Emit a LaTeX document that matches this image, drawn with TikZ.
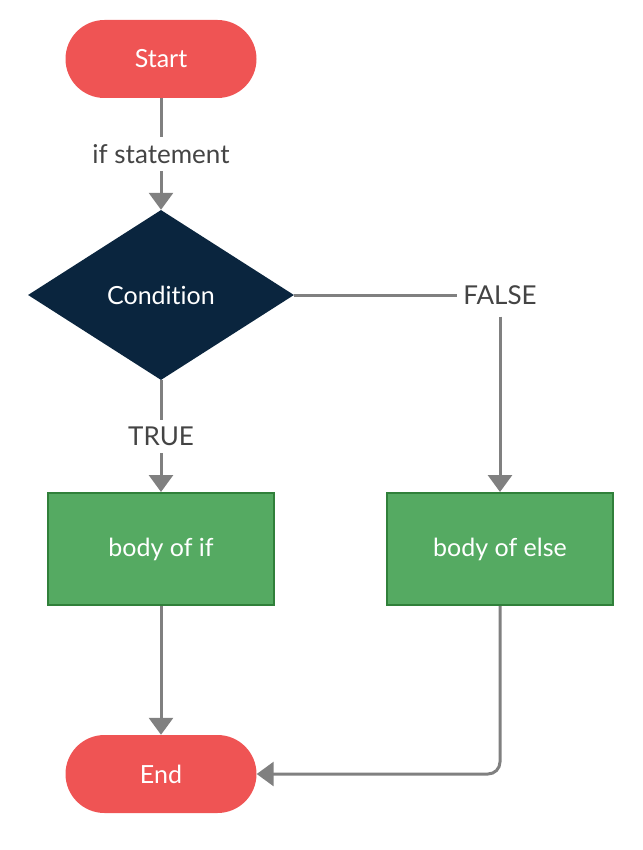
\documentclass[tikz,border=0pt]{standalone}
\usepackage{fontspec}
\setmainfont[Ligatures={NoCommon}]{Lato}
\usetikzlibrary{arrows.meta,shapes.geometric,positioning}
\definecolor{termred}{RGB}{239,84,84}
\definecolor{navy}{RGB}{10,37,62}
\definecolor{boxgreen}{RGB}{85,170,98}
\definecolor{boxedge}{RGB}{48,128,58}
\definecolor{linegray}{RGB}{128,128,128}
\definecolor{labelgray}{RGB}{68,68,68}
\tikzset{
  x=1pt, y=-1pt,
  terminal/.style={rectangle, rounded corners=39pt, fill=termred, text=white,
    minimum width=191pt, minimum height=78pt, inner sep=0pt, font=\fontsize{25}{29}\selectfont},
  decision/.style={diamond, fill=navy, text=white, minimum width=266pt, minimum height=170pt,
    inner sep=0pt, aspect=1.56, font=\fontsize{25}{29}\selectfont},
  process/.style={rectangle, fill=boxgreen, draw=boxedge, line width=2pt, text=white,
    minimum width=226pt, minimum height=112pt, inner sep=0pt, font=\fontsize{25}{29}\selectfont},
  conn/.style={draw=linegray, line width=3pt, -{Triangle[width=24pt,length=17pt]}},
  lbl/.style={fill=white, text=labelgray, inner xsep=2pt, inner ysep=7pt, font=\fontsize{26}{30}\selectfont}
}
\begin{document}
\begin{tikzpicture}
\useasboundingbox (0,0) rectangle (642,850);
\node[terminal] (start) at (161,59) {Start};
\node[decision] (cond) at (161,295) {Condition};
\node[process] (ifbody) at (161,549) {body of if};
\node[process] (elsebody) at (500,549) {body of else};
\node[terminal] (end) at (161,774) {End};
\coordinate (corner) at (500,295);
\draw[conn] (start) -- node[lbl] (ifst) {if statement} (cond);
\draw[conn] (cond) -- node[lbl] (true) {TRUE} (ifbody);
\draw[draw=linegray, line width=3pt] (cond.east) -- (corner);
\node[lbl, inner xsep=6pt, inner ysep=12pt] (false) at (corner) {FALSE};
\draw[conn] (false.south -| corner) -- (elsebody);
\draw[conn] (ifbody) -- (end);
\draw[conn, rounded corners=12pt] (elsebody.south) |- (end.east);
\end{tikzpicture}
\end{document}
